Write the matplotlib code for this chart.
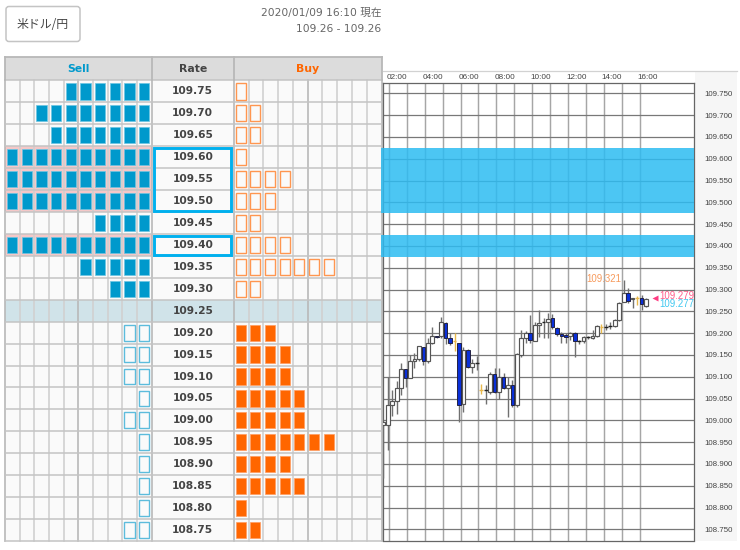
import numpy as np
import matplotlib
matplotlib.use("Agg")
import matplotlib.pyplot as plt
from matplotlib.patches import Rectangle, FancyBboxPatch
from matplotlib.lines import Line2D
from matplotlib.ticker import FixedLocator, FixedFormatter
from matplotlib.transforms import ScaledTranslation

plt.rcParams['font.family'] = ['DejaVu Sans', 'Noto Sans CJK JP']

# ---- order book ----
rates = [109.75,109.70,109.65,109.60,109.55,109.50,109.45,109.40,109.35,109.30,109.25,
         109.20,109.15,109.10,109.05,109.00,108.95,108.90,108.85,108.80,108.75]
sell_counts = [6,8,7,10,10,10,4,10,5,3,0,2,2,2,1,2,1,1,1,1,2]
buy_counts  = [1,2,2,1,4,3,2,4,7,2,0,3,4,4,5,5,7,4,5,1,2]
current_rate = 109.25

# ---- candles, 15 minute bars ----
start_hour = 1.70
step_hour = 0.248
opens = [108.989,108.989,109.035,109.045,109.074,109.117,109.097,109.135,109.140,109.168,
         109.135,109.177,109.194,109.194,109.223,109.188,109.181,109.178,109.038,109.161,
         109.123,109.132,109.070,109.070,109.066,109.107,109.064,109.099,109.074,109.081,
         109.034,109.150,109.188,109.200,109.183,109.219,109.225,109.225,109.234,109.212,
         109.198,109.196,109.193,109.200,109.182,109.182,109.190,109.188,109.193,109.215,
         109.215,109.217,109.217,109.230,109.271,109.293,109.278,109.280,109.281,109.262]
closes = [108.997,109.035,109.045,109.074,109.117,109.097,109.135,109.141,109.171,109.135,
          109.177,109.194,109.190,109.225,109.188,109.178,109.181,109.035,109.161,109.123,
          109.131,109.132,109.070,109.070,109.107,109.064,109.099,109.074,109.081,109.034,
          109.152,109.188,109.200,109.184,109.219,109.224,109.225,109.233,109.213,109.198,
          109.193,109.192,109.201,109.182,109.182,109.190,109.190,109.193,109.216,109.215,
          109.215,109.217,109.230,109.270,109.293,109.274,109.281,109.280,109.266,109.278]
highs = [108.997,109.100,109.070,109.089,109.132,109.117,109.150,109.154,109.171,109.169,
         109.188,109.213,109.194,109.238,109.226,109.200,109.200,109.178,109.168,109.163,
         109.140,109.148,109.084,109.081,109.110,109.119,109.121,109.108,109.100,109.093,
         109.154,109.206,109.205,109.242,109.226,109.252,109.234,109.246,109.243,109.215,
         109.203,109.200,109.203,109.203,109.184,109.193,109.193,109.207,109.218,109.222,
         109.222,109.226,109.232,109.271,109.322,109.303,109.281,109.285,109.287,109.280]
lows = [108.867,108.932,109.009,109.015,109.058,109.077,109.097,109.119,109.137,109.127,
        109.131,109.175,109.188,109.188,109.175,109.173,109.160,108.997,109.020,109.119,
        109.108,109.116,109.061,109.038,109.061,109.062,109.048,109.071,109.007,109.030,
        109.030,109.146,109.178,109.178,109.183,109.192,109.188,109.188,109.209,109.193,
        109.177,109.178,109.184,109.146,109.175,109.178,109.186,109.186,109.192,109.200,
        109.207,109.209,109.215,109.228,109.271,109.270,109.258,109.264,109.253,109.259]
# bars drawn in amber instead of the usual colours
amber_bars = [16, 22, 49, 57]

high_label = "109.321"
ask_price, bid_price = 109.279, 109.277
band_ranges = [(109.475, 109.625), (109.375, 109.425)]
hour_labels = ["02:00","04:00","06:00","08:00","10:00","12:00","14:00","16:00"]
label_hours = [2,4,6,8,10,12,14,16]
grid_hours = list(range(2, 17))
price_ticks = rates

W, H = 740, 550
fig = plt.figure(figsize=(7.4, 5.5), dpi=100, facecolor="white")

def rect_ax(x0, y0, x1, y1):
    return fig.add_axes([x0/W, 1-y1/H, (x1-x0)/W, (y1-y0)/H])

def fig_rect(x0, y0, x1, y1, **kw):
    fig.add_artist(Rectangle((x0/W, 1-y1/H), (x1-x0)/W, (y1-y0)/H,
                             transform=fig.transFigure, **kw))

AXIS_FONT = ['Liberation Sans']

# ---- header ----
fig_rect(694.5, 71, 737, 541, facecolor="#f6f6f6", edgecolor="none", zorder=-2)
fig.add_artist(Line2D([383/W, 737/W], [1-71/H, 1-71/H], color="#d2d2d2", lw=0.9,
                      transform=fig.transFigure, zorder=-1))
fig.add_artist(FancyBboxPatch((6/W, 1-41.5/H), 74/W, 35/H,
                              boxstyle="round,pad=0,rounding_size=0.004",
                              transform=fig.transFigure, facecolor="white",
                              edgecolor="#c4c4c4", lw=1.1, mutation_aspect=1.3))
fig.text(43/W, 1-24/H, "米ドル/円", ha="center", va="center", fontsize=8.6, color="#444444",
         family=['Noto Sans CJK JP', 'DejaVu Sans'])
fig.text(381.5/W, 1-13/H, "2020/01/09 16:10 現在", ha="right", va="center", fontsize=7.7, color="#666666")
fig.text(381.5/W, 1-28.5/H, "109.26 - 109.26", ha="right", va="center", fontsize=7.7, color="#666666")

# ---- order table ----
ax = rect_ax(5, 57, 381.5, 541)
SELL_END, RATE_END, BUY_END = 10.0, 15.59, 25.65
HEAD = -1.07
ax.set_xlim(0, BUY_END)
ax.set_ylim(21, HEAD)
ax.axis("off")
ax.add_patch(Rectangle((0, HEAD), BUY_END, -HEAD, facecolor="#dcdcdc", edgecolor="none"))
for i, (rate, s, b) in enumerate(zip(rates, sell_counts, buy_counts)):
    above = rate > current_rate
    is_cur = rate == current_rate
    row_bg = "#d0e3e9" if is_cur else "#fafafa"
    ax.add_patch(Rectangle((0, i), BUY_END, 1, facecolor=row_bg, edgecolor="none", zorder=1))
    if s == 10:
        ax.add_patch(Rectangle((0, i), SELL_END, 1, facecolor="#f5c8c8", edgecolor="none", zorder=1))
    ax.text((SELL_END+RATE_END)/2, i+0.5, f"{rate:.2f}", ha="center", va="center",
            fontsize=7.7, fontweight="bold", color="#444444", zorder=6)
    for k in range(s):
        col = SELL_END-1-k
        if above:
            ax.add_patch(Rectangle((col+0.14, i+0.13), 0.70, 0.74, facecolor="#0099cc",
                                   edgecolor="#6cc5e2", lw=0.5, zorder=4))
        else:
            ax.add_patch(Rectangle((col+0.14, i+0.14), 0.70, 0.72, facecolor="#fafafa",
                                   edgecolor="#5cbcdc", lw=1.0, zorder=4))
    for k in range(b):
        col = RATE_END+k
        if above:
            ax.add_patch(Rectangle((col+0.12, i+0.13), 0.68, 0.74, facecolor="#fafafa",
                                   edgecolor="#ff9650", lw=1.0, zorder=4))
        else:
            ax.add_patch(Rectangle((col+0.12, i+0.13), 0.68, 0.74, facecolor="#ff6600",
                                   edgecolor="#ff9c60", lw=0.5, zorder=4))

for c in range(0, 11):
    heavy = c in (0, 5, 10)
    ax.plot([c, c], [0, 21], color="#b8b8b8" if heavy else "#d0d0d0", lw=1.2, zorder=2, clip_on=False)
for c in range(0, 11):
    heavy = c in (0, 5, 10)
    ax.plot([RATE_END+c*(BUY_END-RATE_END)/10]*2, [0, 21], color="#b8b8b8" if heavy else "#d0d0d0",
            lw=1.2, zorder=2, clip_on=False)
for r in range(0, 22):
    ax.plot([0, BUY_END], [r, r], color="#c4c4c4", lw=1.1, zorder=3, clip_on=False)
for xx in (0, SELL_END, RATE_END, BUY_END):
    ax.plot([xx, xx], [HEAD, 0], color="#b8b8b8", lw=1.3, zorder=3, clip_on=False)
ax.plot([0, BUY_END], [HEAD, HEAD], color="#b8b8b8", lw=1.3, zorder=3, clip_on=False)

ax.text(SELL_END/2, HEAD/2, "Sell", ha="center", va="center", fontsize=7.8, fontweight="bold", color="#0099cc")
ax.text((SELL_END+RATE_END)/2, HEAD/2, "Rate", ha="center", va="center", fontsize=7.8, fontweight="bold", color="#444444")
ax.text((RATE_END+BUY_END)/2, HEAD/2, "Buy", ha="center", va="center", fontsize=7.8, fontweight="bold", color="#ff6600")

# rate boxes around runs of full sell rows
i = 0
while i < len(rates):
    if sell_counts[i] == 10:
        j = i
        while j+1 < len(rates) and sell_counts[j+1] == 10:
            j += 1
        ax.add_patch(Rectangle((SELL_END+0.12, i+0.07), RATE_END-SELL_END-0.28, j-i+1-0.1,
                               facecolor="none", edgecolor="#00b0ee", lw=2.1, zorder=7))
        i = j+1
    else:
        i += 1

# ---- candle chart ----
PX_H = 17.95
def hour_at(px):
    return 2 + (px-388.7)/PX_H
def price_at(py):
    return 109.75 - (py-93.3)/436.0

cx = rect_ax(383, 82.7, 694, 540.5)
cx.set_facecolor("white")
cx.set_xlim(hour_at(383), hour_at(694))
cx.set_ylim(price_at(540.5), price_at(82.7))

cx.xaxis.tick_top()
cx.xaxis.set_major_locator(FixedLocator(label_hours))
cx.xaxis.set_major_formatter(FixedFormatter(hour_labels))
cx.xaxis.set_minor_locator(FixedLocator(grid_hours))
cx.yaxis.tick_right()
cx.set_yticks(price_ticks)
cx.set_yticklabels([f"{p:.3f}" for p in price_ticks])
cx.tick_params(axis="both", which="both", length=0)
cx.tick_params(axis="x", pad=1.2, labelcolor="#444444")
cx.tick_params(axis="y", pad=7.6, labelcolor="#444444")
shift = ScaledTranslation(-2.2/100, 0, fig.dpi_scale_trans)
for t in cx.get_xticklabels():
    t.set_ha("left"); t.set_family(AXIS_FONT); t.set_fontsize(5.9)
    t.set_transform(t.get_transform() + shift)
for t in cx.get_yticklabels():
    t.set_family(AXIS_FONT); t.set_fontsize(5.7)
cx.set_axisbelow(True)
cx.grid(True, axis="y", color="#787878", lw=0.9)
cx.xaxis.grid(True, which="both", color="#a6a6a6", lw=1.05)
for name, sp in cx.spines.items():
    sp.set_color("#666666"); sp.set_linewidth(0.9)

for lo, hi in band_ranges:
    cx.axhspan(lo, hi, xmin=-2/311, xmax=1, facecolor="#2dbcf2", alpha=0.85,
               edgecolor="none", clip_on=False, zorder=5)

times = start_hour + np.arange(len(opens))*step_hour
BODY_W = 3.7/PX_H
DASH = 3.8/PX_H
for n, (t, o, c, h, l) in enumerate(zip(times, opens, closes, highs, lows)):
    amber = n in amber_bars
    if amber:
        cx.vlines(t, l, h, color="#e8b84c", lw=1.0, zorder=3)
        cx.hlines(c, t-DASH/2, t+DASH/2, color="#e8b84c", lw=1.0, zorder=4)
        continue
    cx.vlines(t, l, h, color="#707070", lw=1.0, zorder=3)
    if o == c:
        cx.hlines(c, t-DASH/2, t+DASH/2, color="#222222", lw=1.0, zorder=4)
    elif c > o:
        cx.bar(t, c-o, BODY_W, bottom=o, facecolor="white", edgecolor="#555555", lw=0.85, zorder=4)
    else:
        cx.bar(t, o-c, BODY_W, bottom=c, facecolor="#0a30d8", edgecolor="#222244", lw=0.7, zorder=4)

peak = int(np.argmax(highs))
cx.annotate(high_label, xy=(times[peak], highs[peak]), xytext=(-1.5, 0.5), textcoords="offset points",
            ha="right", va="center", fontsize=6.9, color="#f79a5c", family=AXIS_FONT)
cx.plot([hour_at(654.5)], [ask_price+0.001], marker="<", ms=5, color="#ff3c82", mec="none", zorder=6)
cx.annotate(f"{ask_price:.3f}", xy=(hour_at(659), ask_price), xytext=(0, 2.2), textcoords="offset points",
            ha="left", va="center", fontsize=6.9, color="#ff5c8a", family=AXIS_FONT)
cx.annotate(f"{bid_price:.3f}", xy=(hour_at(659), bid_price), xytext=(0, -3.3), textcoords="offset points",
            ha="left", va="center", fontsize=6.9, color="#40c8f0", family=AXIS_FONT)

fig.savefig("out.png", dpi=100)
